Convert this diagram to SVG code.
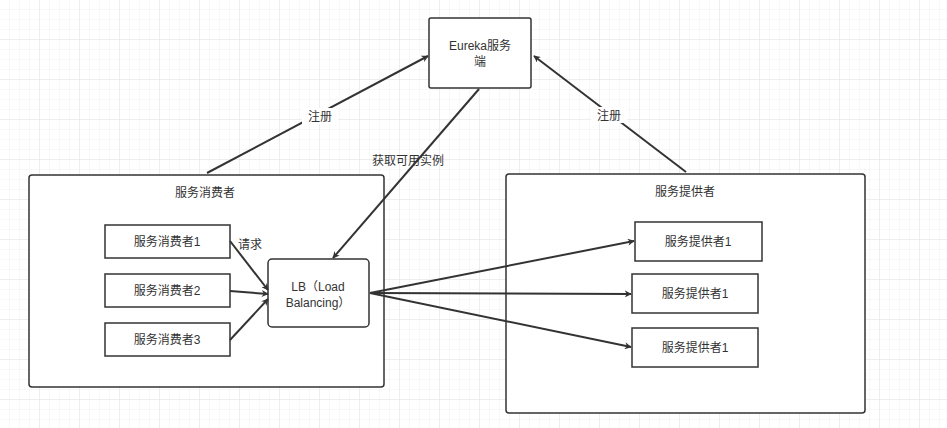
<svg xmlns="http://www.w3.org/2000/svg" width="947" height="428" viewBox="0 0 947 428">
<defs>
<pattern id="g" width="10" height="10" patternUnits="userSpaceOnUse"><path d="M10 0V10H0" fill="none" stroke="#f0f0f0" stroke-width="1"/></pattern>
<pattern id="G" width="40" height="40" patternUnits="userSpaceOnUse"><rect width="40" height="40" fill="url(#g)"/><path d="M40 0V40H0" fill="none" stroke="#e4e4e4" stroke-width="1"/></pattern>
<marker id="a" viewBox="0 0 10 10" refX="9" refY="5" markerWidth="7" markerHeight="7" orient="auto" markerUnits="userSpaceOnUse"><path d="M0 0L10 5L0 10L3 5Z" fill="#333"/></marker>
</defs>
<style>
.b{fill:#fff;stroke:#333;stroke-width:1.5}
text{font-family:"Liberation Sans","Noto Sans CJK SC",sans-serif;font-size:12px;fill:#333;text-anchor:middle}
.c line{stroke:#333;stroke-width:2;marker-end:url(#a)}
.c line{}
</style>
<rect width="947" height="428" fill="#fff"/>
<rect width="947" height="428" fill="url(#G)"/>
<g id="consumerGroup"><rect class="b" x="29" y="175" width="355" height="212" rx="3"/><text x="205" y="197">服务消费者</text></g>
<g id="providerGroup"><rect class="b" x="506" y="174" width="359" height="239" rx="3"/><text x="685" y="196">服务提供者</text></g>
<g id="eureka"><rect class="b" x="429" y="18" width="102" height="70" rx="2"/><text x="480" y="50">Eureka服务</text><text x="480" y="66">端</text></g>
<g id="c1"><rect class="b" x="105" y="225" width="125" height="33"/><text x="167" y="246">服务消费者1</text></g>
<g id="c2"><rect class="b" x="105" y="274" width="125" height="33"/><text x="167" y="295">服务消费者2</text></g>
<g id="c3"><rect class="b" x="105" y="323" width="125" height="33"/><text x="167" y="344">服务消费者3</text></g>
<g id="lb"><rect class="b" x="268" y="259" width="101" height="68" rx="4"/><text x="318" y="291">LB（Load</text><text x="318" y="307">Balancing）</text></g>
<g id="p1"><rect class="b" x="635" y="222" width="127" height="39"/><text x="698" y="246">服务提供者1</text></g>
<g id="p2"><rect class="b" x="632" y="274" width="126" height="39"/><text x="695" y="298">服务提供者1</text></g>
<g id="p3"><rect class="b" x="632" y="328" width="126" height="39"/><text x="695" y="352">服务提供者1</text></g>
<g class="c" id="connectors">
<line x1="207" y1="173" x2="428" y2="56"/>
<line x1="686" y1="172" x2="534" y2="56"/>
<line x1="479" y1="89" x2="333" y2="258"/>
<line x1="230" y1="241" x2="268" y2="290"/>
<line x1="230" y1="291" x2="268" y2="294"/>
<line x1="230" y1="340" x2="268" y2="299"/>
<line x1="370" y1="293" x2="634" y2="241"/>
<line x1="370" y1="293" x2="631" y2="294"/>
<line x1="370" y1="293" x2="631" y2="347"/>
<rect x="302" y="108" width="36" height="16" fill="#fff"/><text x="320" y="121">注册</text>
<rect x="591" y="107" width="36" height="16" fill="#fff"/><text x="609" y="120">注册</text>
<text x="408" y="165">获取可用实例</text>
<text x="250" y="249">请求</text>
</g>
</svg>
